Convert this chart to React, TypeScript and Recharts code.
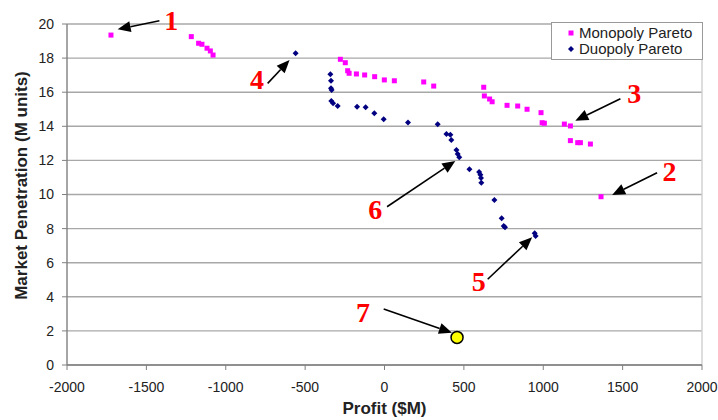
import {
  ScatterChart,
  Scatter,
  XAxis,
  YAxis,
  CartesianGrid,
  Legend,
  ReferenceLine,
  ReferenceDot,
  Label
} from 'recharts'

const monopolyProfit = [
  -1723, -1217, -1171, -1150, -1118, -1097, -1080, -278, -247, -232, -223, -177, -125, -62, -1, 62,
  247, 310, 625, 629, 662, 678, 772, 839, 898, 986, 993, 1007, 1133, 1171, 1171, 1217, 1234, 1297, 1364
]
const monopolyPenetration = [
  19.35, 19.26, 18.87, 18.81, 18.58, 18.42, 18.18, 17.93, 17.73, 17.26, 17.11, 17.07, 17.01, 16.91, 16.72, 16.67,
  16.6, 16.36, 16.29, 15.78, 15.6, 15.44, 15.23, 15.19, 15.0, 14.8, 14.21, 14.18, 14.13, 14.02, 13.16, 13.04, 13.04, 12.96, 9.87
]

const duopolyProfit = [
  -560, -341, -337, -337, -333, -335, -324, -295, -173, -119, -64, -5, 148, 335, 390, 415,
  421, 453, 461, 471, 535, 596, 604, 608, 610, 692, 738, 751, 759, 946, 952
]
const duopolyPenetration = [
  18.28, 17.05, 16.67, 16.23, 16.13, 15.48, 15.35, 15.19, 15.15, 15.11, 14.76, 14.41, 14.23, 14.12, 13.55, 13.51,
  13.2, 12.61, 12.38, 12.18, 11.48, 11.32, 11.16, 10.97, 10.69, 9.68, 8.6, 8.15, 8.08, 7.72, 7.57
]

const currentProfit = [457]
const currentPenetration = [1.62]

const xTicks = [-2000, -1500, -1000, -500, 0, 500, 1000, 1500, 2000]
const yTicks = [0, 2, 4, 6, 8, 10, 12, 14, 16, 18, 20]

const seriesNames = ['Monopoly Pareto', 'Duopoly Pareto']

// callout numbers: where the number sits, and the arrow from -> to (data units)
const calloutIds = ['1', '2', '3', '4', '5', '6', '7']
const calloutText = [[-1343, 20.23], [1796, 11.34], [1574, 15.94], [-803, 16.72], [593, 4.89], [-58, 9.13], [-135, 3.07]]
const calloutFrom = [[-1418, 20.19], [1717, 11.28], [1486, 15.62], [-736, 16.52], [650, 5.03], [16, 9.28], [-5, 3.28]]
const calloutTo = [[-1681, 19.69], [1434, 9.97], [1202, 14.33], [-598, 17.89], [930, 7.49], [446, 11.97], [425, 1.89]]

const monopoly = monopolyProfit.map((x, i) => ({ x, y: monopolyPenetration[i] }))
const duopoly = duopolyProfit.map((x, i) => ({ x, y: duopolyPenetration[i] }))
const current = currentProfit.map((x, i) => ({ x, y: currentPenetration[i] }))

const sans = "'Liberation Sans', Arial, sans-serif"
const MAGENTA = '#ff00ff'
const NAVY = '#000080'

const square = (p: any) => (
  <rect x={p.cx - 2.5} y={p.cy - 2.5} width={5} height={5} fill={MAGENTA} />
)

const diamond = (p: any) => (
  <polygon
    points={`${p.cx},${p.cy - 3} ${p.cx + 3},${p.cy} ${p.cx},${p.cy + 3} ${p.cx - 3},${p.cy}`}
    fill={NAVY}
  />
)

const yellowDot = (p: any) => (
  <circle cx={p.cx} cy={p.cy} r={6} fill="#ffff00" stroke="#000" strokeWidth={1.5} />
)

const arrow = (p: any) => {
  const { x1, y1, x2, y2 } = p
  const dx = x2 - x1
  const dy = y2 - y1
  const len = Math.hypot(dx, dy) || 1
  const ux = dx / len
  const uy = dy / len
  const bx = x2 - ux * 13
  const by = y2 - uy * 13
  return (
    <g>
      <line x1={x1} y1={y1} x2={bx} y2={by} stroke="#000" strokeWidth={1.6} />
      <polygon
        points={`${x2},${y2} ${bx - uy * 5.5},${by + ux * 5.5} ${bx + uy * 5.5},${by - ux * 5.5}`}
        fill="#000"
      />
    </g>
  )
}

const number = (id: string) => (p: any) => (
  <text
    x={p.cx}
    y={p.cy}
    textAnchor="middle"
    dominantBaseline="central"
    fill="#ff0000"
    fontFamily="'Liberation Serif', 'Times New Roman', serif"
    fontWeight="bold"
    fontSize={28}
  >
    {id}
  </text>
)

const YTitle = (props: any) => {
  const vb = props.viewBox || { x: 0, y: 24, width: 67, height: 341 }
  const x = vb.x + 21
  const y = vb.y + vb.height / 2 - 9
  return (
    <text
      x={x}
      y={y}
      transform={`rotate(-90 ${x} ${y})`}
      textAnchor="middle"
      dominantBaseline="central"
      fontFamily={sans}
      fontWeight="bold"
      fontSize={17}
      fill="#222"
    >
      Market Penetration (M units)
    </text>
  )
}

const XTitle = (props: any) => {
  const vb = props.viewBox || { x: 67, y: 365, width: 635, height: 55 }
  return (
    <text
      x={vb.x + vb.width / 2}
      y={vb.y + 49}
      textAnchor="middle"
      fontFamily={sans}
      fontWeight="bold"
      fontSize={17}
      fill="#222"
    >
      Profit ($M)
    </text>
  )
}

const renderLegend = () => (
  <div
    style={{
      width: 150,
      height: 34,
      border: '1px solid #999',
      background: '#fff',
      fontFamily: sans,
      fontSize: 15,
      lineHeight: '16px',
      color: '#222',
      paddingTop: 2,
      boxSizing: 'content-box'
    }}
  >
    {seriesNames.map((name, i) => (
      <div key={name} style={{ display: 'flex', alignItems: 'center', height: 16 }}>
        <svg width={27} height={16}>
          {i === 0 ? (
            <rect x={16.5} y={5.5} width={5} height={5} fill={MAGENTA} />
          ) : (
            <polygon points="19,5 22,8 19,11 16,8" fill={NAVY} />
          )}
        </svg>
        <span>{name}</span>
      </div>
    ))}
  </div>
)

export default function App() {
  return (
    <div style={{ position: 'absolute', left: 0, top: 0, width: 718, height: 420, background: '#fff' }}>
      <ScatterChart width={718} height={420} margin={{ top: 24, right: 16, bottom: 0, left: 0 }}>
        <CartesianGrid vertical={false} stroke="#a8a8a8" strokeWidth={1.4} />
        <XAxis
          type="number"
          dataKey="x"
          domain={[-2000, 2000]}
          ticks={xTicks}
          interval={0}
          height={55}
          tickSize={5}
          tickMargin={12}
          axisLine={{ stroke: '#808080', strokeWidth: 1.4 }}
          tickLine={{ stroke: '#808080' }}
          tick={{ fontSize: 14, fill: '#222', fontFamily: sans }}
        >
          <Label content={XTitle} />
        </XAxis>
        <YAxis
          type="number"
          dataKey="y"
          domain={[0, 20]}
          ticks={yTicks}
          interval={0}
          width={67}
          tickSize={5}
          tickMargin={8}
          axisLine={{ stroke: '#808080', strokeWidth: 1.4 }}
          tickLine={{ stroke: '#808080' }}
          tick={{ fontSize: 14, fill: '#222', fontFamily: sans }}
        >
          <Label content={YTitle} />
        </YAxis>
        <ReferenceLine x={2000} stroke="#cfcfcf" strokeWidth={1.4} />
        <Legend
          layout="vertical"
          align="center"
          verticalAlign="middle"
          wrapperStyle={{ top: 22, left: 551, width: 152 }}
          content={renderLegend}
        />
        <Scatter name={seriesNames[0]} data={monopoly} shape={square} isAnimationActive={false} />
        <Scatter name={seriesNames[1]} data={duopoly} shape={diamond} isAnimationActive={false} />
        <Scatter name="Current" data={current} shape={yellowDot} legendType="none" isAnimationActive={false} />
        {calloutIds.map((id, i) => (
          <ReferenceLine
            key={`arrow-${id}`}
            segment={[
              { x: calloutFrom[i][0], y: calloutFrom[i][1] },
              { x: calloutTo[i][0], y: calloutTo[i][1] }
            ]}
            ifOverflow="visible"
            shape={arrow}
          />
        ))}
        {calloutIds.map((id, i) => (
          <ReferenceDot
            key={`num-${id}`}
            x={calloutText[i][0]}
            y={calloutText[i][1]}
            r={0}
            ifOverflow="visible"
            shape={number(id)}
          />
        ))}
      </ScatterChart>
    </div>
  )
}
